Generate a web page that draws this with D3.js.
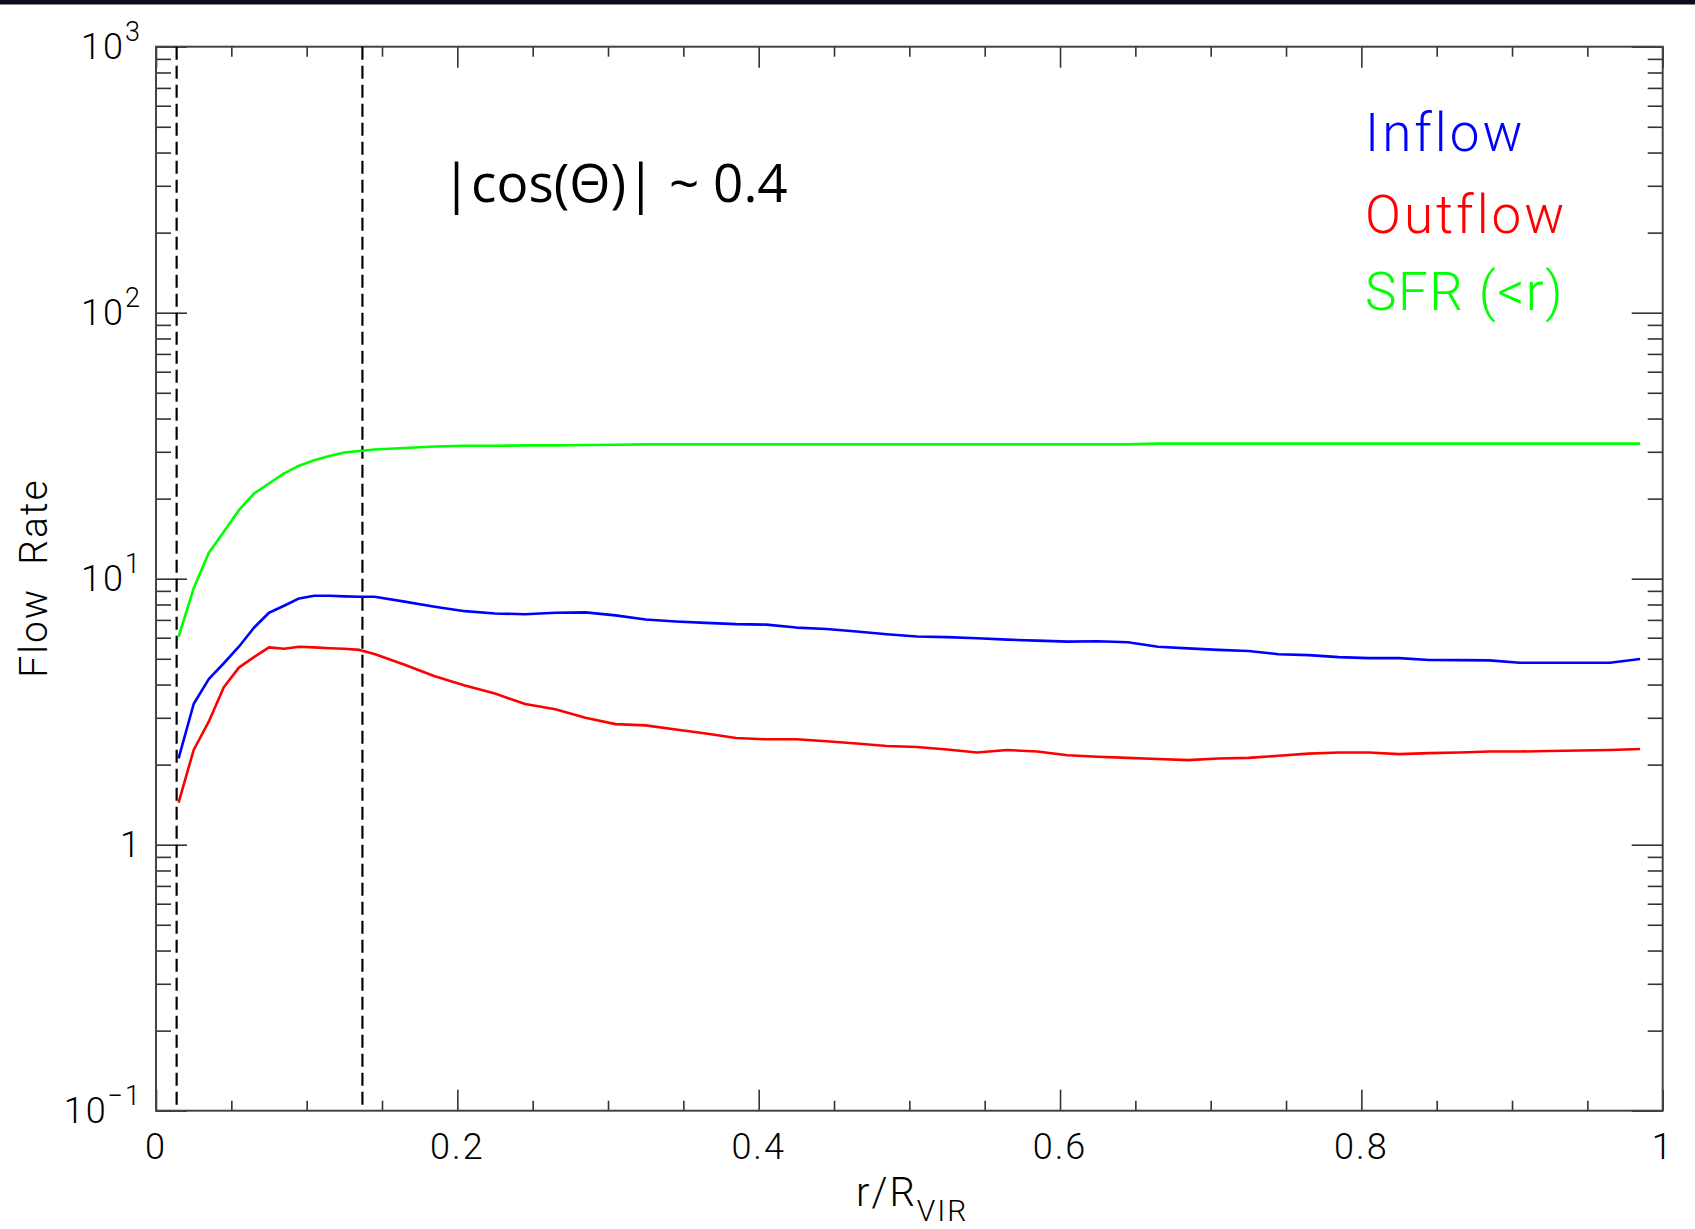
<!DOCTYPE html>
<html>
<head>
<meta charset="utf-8">
<script src="https://cdn.jsdelivr.net/npm/d3@7"></script>
<style>
  body { margin: 0; background: #fff; }
  svg text { font-family: Roboto, "DejaVu Sans", sans-serif; font-weight: 300; }
</style>
</head>
<body>
<svg id="chart" width="1695" height="1229"></svg>
<script>
// r / R_vir sample points
var radius = [0.015, 0.025, 0.035, 0.045, 0.055, 0.065, 0.075, 0.085, 0.095, 0.105, 0.115, 0.125, 0.135, 0.145,
  0.165, 0.185, 0.205, 0.225, 0.245, 0.265, 0.285, 0.305, 0.325, 0.345, 0.365, 0.385, 0.405, 0.425,
  0.445, 0.465, 0.485, 0.505, 0.525, 0.545, 0.565, 0.585, 0.605, 0.625, 0.645, 0.665, 0.685, 0.705,
  0.725, 0.745, 0.765, 0.785, 0.805, 0.825, 0.845, 0.865, 0.885, 0.905, 0.925, 0.945, 0.965, 0.985];

var inflow = [2.11, 3.38, 4.19, 4.81, 5.55, 6.54, 7.45, 7.91, 8.43, 8.63, 8.63, 8.58, 8.55, 8.55,
  8.2, 7.85, 7.55, 7.40, 7.35, 7.45, 7.47, 7.28, 7.02, 6.90, 6.82, 6.75, 6.72, 6.55,
  6.47, 6.33, 6.18, 6.06, 6.03, 5.97, 5.90, 5.85, 5.80, 5.82, 5.77, 5.55, 5.47, 5.40,
  5.35, 5.20, 5.16, 5.07, 5.03, 5.03, 4.95, 4.94, 4.93, 4.83, 4.83, 4.83, 4.83, 4.99];

var outflow = [1.44, 2.27, 2.90, 3.91, 4.63, 5.07, 5.52, 5.45, 5.55, 5.52, 5.48, 5.45, 5.40, 5.21,
  4.75, 4.30, 3.97, 3.70, 3.38, 3.23, 3.00, 2.84, 2.81, 2.71, 2.62, 2.52, 2.49, 2.49,
  2.45, 2.40, 2.35, 2.33, 2.28, 2.22, 2.27, 2.24, 2.17, 2.14, 2.12, 2.10, 2.08, 2.11,
  2.12, 2.16, 2.20, 2.22, 2.22, 2.19, 2.21, 2.22, 2.24, 2.24, 2.25, 2.26, 2.27, 2.29];

var sfr = [6.05, 9.2, 12.5, 15.0, 18.1, 20.9, 22.8, 24.9, 26.6, 27.9, 28.9, 29.8, 30.2, 30.6,
  31.0, 31.4, 31.6, 31.6, 31.7, 31.7, 31.8, 31.9, 32.0, 32.0, 32.0, 32.0, 32.0, 32.0,
  32.0, 32.0, 32.0, 32.0, 32.0, 32.0, 32.0, 32.0, 32.0, 32.0, 32.0, 32.2, 32.2, 32.2,
  32.2, 32.2, 32.2, 32.2, 32.2, 32.2, 32.2, 32.2, 32.2, 32.2, 32.2, 32.2, 32.2, 32.2];

var dashedR = [0.0137, 0.137];

var xMajor = [0, 0.2, 0.4, 0.6, 0.8, 1];
var xLabels = ['0', '0.2', '0.4', '0.6', '0.8', '1'];
var yExponents = [-1, 0, 1, 2, 3];
var legendNames = ['Inflow', 'Outflow', 'SFR (<r)'];
var legendColors = ['#0000ff', '#ff0000', '#00ff00'];

var plotLeft = 156, plotRight = 1662.7, plotTop = 46.7, plotBottom = 1110.7;

var svg = d3.select('#chart');

// dark strip along the top of the image
svg.append('rect').attr('x', 0).attr('y', 0).attr('width', 1695).attr('height', 4.5).attr('fill', '#0c0c1c');

var x = d3.scaleLinear().domain([0, 1]).range([plotLeft, plotRight]);
var y = d3.scaleLog().domain([0.1, 1000]).range([plotBottom, plotTop]);

var xMinor = d3.range(0, 1.0001, 0.05).filter(function(v) {
  return Math.abs(v * 5 - Math.round(v * 5)) > 1e-6;
});
var yMajor = yExponents.map(function(e) { return Math.pow(10, e); });
var yMinor = [];
yExponents.slice(0, -1).forEach(function(e) {
  for (var m = 2; m <= 9; m++) yMinor.push(m * Math.pow(10, e));
});

function styleAxis(g) {
  g.select('.domain').remove();
  g.selectAll('.tick line').attr('stroke', '#333').attr('stroke-width', 1.6);
  g.selectAll('.tick text').remove();
}

// bottom / top
svg.append('g').attr('transform', 'translate(0,' + plotBottom + ')')
  .call(d3.axisBottom(x).tickValues(xMajor).tickSize(-21).tickSizeOuter(0)).call(styleAxis);
svg.append('g').attr('transform', 'translate(0,' + plotBottom + ')')
  .call(d3.axisBottom(x).tickValues(xMinor).tickSize(-10).tickSizeOuter(0)).call(styleAxis);
svg.append('g').attr('transform', 'translate(0,' + plotTop + ')')
  .call(d3.axisTop(x).tickValues(xMajor).tickSize(-21).tickSizeOuter(0)).call(styleAxis);
svg.append('g').attr('transform', 'translate(0,' + plotTop + ')')
  .call(d3.axisTop(x).tickValues(xMinor).tickSize(-10).tickSizeOuter(0)).call(styleAxis);
// left / right
svg.append('g').attr('transform', 'translate(' + plotLeft + ',0)')
  .call(d3.axisLeft(y).tickValues(yMajor).tickSize(-31).tickSizeOuter(0)).call(styleAxis);
svg.append('g').attr('transform', 'translate(' + plotLeft + ',0)')
  .call(d3.axisLeft(y).tickValues(yMinor).tickSize(-15).tickSizeOuter(0)).call(styleAxis);
svg.append('g').attr('transform', 'translate(' + plotRight + ',0)')
  .call(d3.axisRight(y).tickValues(yMajor).tickSize(-31).tickSizeOuter(0)).call(styleAxis);
svg.append('g').attr('transform', 'translate(' + plotRight + ',0)')
  .call(d3.axisRight(y).tickValues(yMinor).tickSize(-15).tickSizeOuter(0)).call(styleAxis);

// frame
svg.append('rect')
  .attr('x', plotLeft).attr('y', plotTop)
  .attr('width', plotRight - plotLeft).attr('height', plotBottom - plotTop)
  .attr('fill', 'none').attr('stroke', '#444').attr('stroke-width', 2);

// x tick labels
svg.append('g').selectAll('text')
  .data(xMajor)
  .enter().append('text')
  .attr('x', function(d) { return x(d); })
  .attr('y', plotBottom + 48.5)
  .attr('text-anchor', 'middle')
  .attr('font-size', 36)
  .attr('letter-spacing', 2)
  .attr('fill', '#000')
  .text(function(d, i) { return xLabels[i]; });

// y tick labels
var yLab = svg.append('g').selectAll('text')
  .data(yExponents)
  .enter().append('text')
  .attr('x', 142)
  .attr('y', function(d) { return y(Math.pow(10, d)) + 12.5; })
  .attr('text-anchor', 'end')
  .attr('font-size', 36)
  .attr('letter-spacing', 2)
  .attr('fill', '#000');
yLab.each(function(d) {
  var t = d3.select(this);
  if (d === 0) { t.text('1'); return; }
  t.append('tspan').text('10');
  t.append('tspan').attr('dy', -18).attr('font-size', 27)
    .text(d < 0 ? '\u2212' + (-d) : String(d));
});

// axis titles
svg.append('text')
  .attr('transform', 'translate(47,578) rotate(-90)')
  .attr('text-anchor', 'middle')
  .attr('font-size', 39)
  .attr('letter-spacing', 2)
  .attr('fill', '#000')
  .attr('xml:space', 'preserve')
  .text('Flow  Rate');

var xt = svg.append('text')
  .attr('x', 856).attr('y', 1206)
  .attr('font-size', 40)
  .attr('letter-spacing', 2)
  .attr('fill', '#000');
xt.append('tspan').text('r/R');
xt.append('tspan').attr('dy', 15).attr('font-size', 30).text('VIR');

// dashed verticals
svg.append('g').selectAll('line')
  .data(dashedR)
  .enter().append('line')
  .attr('x1', function(d) { return x(d); })
  .attr('x2', function(d) { return x(d); })
  .attr('y1', plotTop).attr('y2', plotBottom)
  .attr('stroke', '#000').attr('stroke-width', 2.2)
  .attr('stroke-dasharray', '13,6');

// curves
var line = d3.line()
  .x(function(d) { return x(d[0]); })
  .y(function(d) { return y(d[1]); });

[inflow, outflow, sfr].forEach(function(series, i) {
  svg.append('path')
    .datum(radius.map(function(r, j) { return [r, series[j]]; }))
    .attr('d', line)
    .attr('fill', 'none')
    .attr('stroke', legendColors[i])
    .attr('stroke-width', 2.6)
    .attr('stroke-linejoin', 'round');
});

// legend
svg.append('g').selectAll('text')
  .data(legendNames)
  .enter().append('text')
  .attr('x', 1365)
  .attr('y', function(d, i) { return [150.7, 232.7, 310][i]; })
  .attr('font-size', 53)
  .attr('letter-spacing', function(d, i) { return i === 2 ? 1.5 : 3; })
  .attr('fill', function(d, i) { return legendColors[i]; })
  .text(function(d) { return d; });

// annotation
svg.append('text')
  .attr('x', 442).attr('y', 202)
  .style('font-family', '"Open Sans", "Noto Sans", sans-serif')
  .style('font-weight', 400)
  .attr('font-size', 53)
  .attr('fill', '#000')
  .text('|cos(\u0398)| ~ 0.4');
</script>
</body>
</html>
